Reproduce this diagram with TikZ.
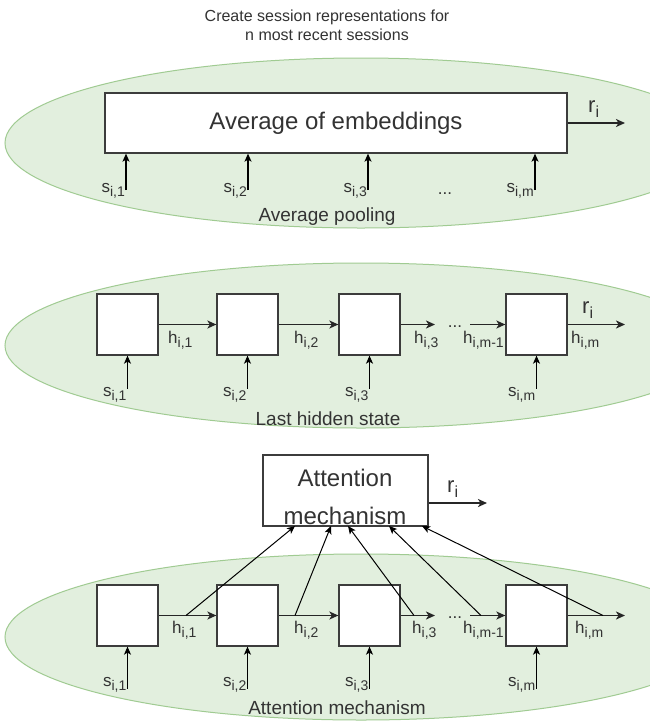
\documentclass[tikz,border=0pt]{standalone}
\usepackage{fontspec}
\setmainfont{Liberation Sans}
\usetikzlibrary{arrows.meta,calc}

\definecolor{ellfill}{RGB}{226,239,222}
\definecolor{elldraw}{RGB}{160,203,146}
\definecolor{txt}{RGB}{51,51,51}
\definecolor{edge}{RGB}{60,60,60}

% font size in pt with matching leading
\newcommand{\fsz}[1]{\fontsize{#1}{#1}\selectfont}
% letter with a lowered index, e.g. s_{i,1}
\newcommand{\idx}[2]{#1\raisebox{-4pt}{\fontsize{14}{14}\selectfont #2}}
% output label r_i
\newcommand{\outr}{\fsz{22}r\raisebox{-5pt}{\fontsize{16}{16}\selectfont i}}

\begin{document}
\begin{tikzpicture}[x=1pt,y=-1pt,
  region/.style={draw=elldraw,fill=ellfill,line width=1pt},
  cell/.style={draw=edge,fill=white,line width=1.3pt,minimum width=61pt,minimum height=61pt,inner sep=0pt},
  bigbox/.style={draw=edge,fill=white,line width=1.3pt,inner sep=0pt,text=txt,font=\fsz{24}},
  flow/.style={-{Stealth[length=9pt,width=8pt,inset=2.5pt]},line width=1.8pt,draw=black!85},
  feed/.style={-{Stealth[length=8pt,width=7pt,inset=2pt]},line width=1.1pt},
  attend/.style={-{Stealth[length=8pt,width=7pt,inset=2pt]},line width=1pt},
  lbl/.style={inner sep=0pt,text=txt,font=\fsz{17}},
  caption/.style={inner sep=0pt,text=txt,font=\fsz{19}},
]
\useasboundingbox (0,0) rectangle (649,721);
\fill[white] (0,0) rectangle (649,721);

% heading
\node[inner sep=0pt,align=center,text=txt,font=\fontsize{16}{19}\selectfont] (title) at (327,25)
  {Create session representations for\\n most recent sessions};

% ---------------- average pooling ----------------
\draw[region] (361,143) ellipse [x radius=356pt, y radius=85pt];
\node[bigbox,minimum width=462pt,minimum height=60pt] (avg) at (336,123) {Average of embeddings};
\coordinate (o1) at (625,123);
\draw[flow] (avg.east) -- (o1);
\node[inner sep=0pt,text=txt,anchor=base west] (r1) at (588,112) {\outr};

\foreach \x/\n/\s in {126/1/{i,1},248/2/{i,2},368/3/{i,3},535/4/{i,m}}{
  \coordinate (a\n) at (\x,190);
  \draw[feed] (a\n) -- (a\n |- avg.south);
  \node[lbl,anchor=base east] (sa\n) at (\x-1,192) {\idx{s}{\s}};
}
\node[lbl,anchor=base] (dots1) at (445,194) {...};
\node[caption] (cap1) at (327,217) {Average pooling};

% ---------------- last hidden state ----------------
\draw[region] (361,345.5) ellipse [x radius=356pt, y radius=82.5pt];
\node[cell] (c21) at (127.5,324.5) {};
\node[cell] (c22) at (247.5,324.5) {};
\node[cell] (c23) at (369.5,324.5) {};
\node[cell] (c24) at (536.5,324.5) {};
\coordinate (d2a) at (435,324.5);
\coordinate (d2b) at (470,324.5);
\coordinate (o2) at (625,324.5);
\draw[flow] (c21.east) -- (c22.west);
\draw[flow] (c22.east) -- (c23.west);
\draw[flow] (c23.east) -- (d2a);
\draw[flow] (d2b) -- (c24.west);
\draw[flow] (c24.east) -- (o2);
\node[lbl,anchor=base] (dots2) at (455,327) {...};
\node[inner sep=0pt,text=txt,anchor=base west] (r2) at (582,313) {\outr};

\node[lbl,anchor=base west] (h21) at (168,343) {\idx{h}{i,1}};
\node[lbl,anchor=base west] (h22) at (294,343) {\idx{h}{i,2}};
\node[lbl,anchor=base west] (h23) at (414,343) {\idx{h}{i,3}};
\node[lbl,anchor=base west] (h24) at (463,343) {\idx{h}{i,m-1}};
\node[lbl,anchor=base west] (h25) at (571,343) {\idx{h}{i,m}};

\foreach \n/\s in {1/{i,1},2/{i,2},3/{i,3},4/{i,m}}{
  \coordinate (b\n) at ($(c2\n.south)+(0,33)$);
  \draw[feed] (b\n) -- (c2\n.south);
  \node[lbl,anchor=base east] (sb\n) at ($(b\n)+(-1,8)$) {\idx{s}{\s}};
}
\node[caption] (cap2) at (328,419) {Last hidden state};

% ---------------- attention mechanism ----------------
\draw[region] (361,637) ellipse [x radius=356pt, y radius=83pt];
\node[bigbox,minimum width=165pt,minimum height=71pt] (attn) at (345.5,490.5) {};
\node[inner sep=0pt,align=center,text=txt,font=\fontsize{24}{38}\selectfont] (attntxt) at (345,497)
  {Attention\\mechanism};
\coordinate (o3) at (487,503);
\draw[flow] (attn.east |- o3) -- (o3);
\node[inner sep=0pt,text=txt,anchor=base west] (r3) at (447,492) {\outr};

\node[cell] (c31) at (127.5,615.5) {};
\node[cell] (c32) at (247.5,615.5) {};
\node[cell] (c33) at (369.5,615.5) {};
\node[cell] (c34) at (536.5,615.5) {};
\coordinate (d3a) at (435,615.5);
\coordinate (d3b) at (470,615.5);
\coordinate (o4) at (625,615.5);
\draw[flow] (c31.east) -- (c32.west);
\draw[flow] (c32.east) -- (c33.west);
\draw[flow] (c33.east) -- (d3a);
\draw[flow] (d3b) -- (c34.west);
\draw[flow] (c34.east) -- (o4);
\node[lbl,anchor=base] (dots3) at (455,618) {...};

\node[lbl,anchor=base west] (h31) at (172,633) {\idx{h}{i,1}};
\node[lbl,anchor=base west] (h32) at (294,633) {\idx{h}{i,2}};
\node[lbl,anchor=base west] (h33) at (412,633) {\idx{h}{i,3}};
\node[lbl,anchor=base west] (h34) at (463,633) {\idx{h}{i,m-1}};
\node[lbl,anchor=base west] (h35) at (575,633) {\idx{h}{i,m}};

\foreach \n/\s in {1/{i,1},2/{i,2},3/{i,3},4/{i,m}}{
  \coordinate (e\n) at ($(c3\n.south)+(0,42)$);
  \draw[feed] (e\n) -- (c3\n.south);
  \node[lbl,anchor=base east] (se\n) at ($(e\n)+(-1,-2)$) {\idx{s}{\s}};
}

% hidden states feeding the attention block
\coordinate (p1) at (186,615.5);
\coordinate (p2) at (295,615.5);
\coordinate (p3) at (414,615.5);
\coordinate (p4) at (481,615.5);
\coordinate (p5) at (603,615.5);
\coordinate (t1) at (295,526);
\coordinate (t2) at (331,526);
\coordinate (t3) at (348,526);
\coordinate (t4) at (389,526);
\coordinate (t5) at (422,526);
\foreach \k in {1,...,5}{ \draw[attend] (p\k) -- (t\k); }

\node[caption] (cap3) at (337,708) {Attention mechanism};
\end{tikzpicture}
\end{document}
